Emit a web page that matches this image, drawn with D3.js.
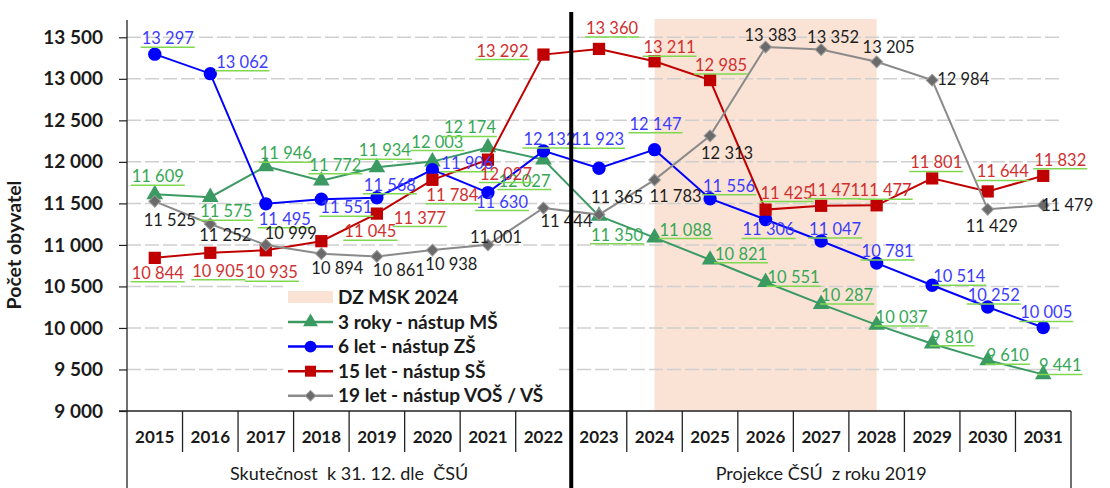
<!DOCTYPE html>
<html>
<head>
<meta charset="utf-8">
<script src="https://cdn.jsdelivr.net/npm/d3@7"></script>
<style>
  body { margin: 0; background: #fff; }
  svg { font-family: Lato, "Open Sans", sans-serif; }
  .lbl { font-size: 16.5px; }
</style>
</head>
<body>
<svg id="chart" width="1110" height="488"></svg>
<script>
// categories and values
var years = ["2015","2016","2017","2018","2019","2020","2021","2022","2023","2024","2025","2026","2027","2028","2029","2030","2031"];
var yTicks = [9000, 9500, 10000, 10500, 11000, 11500, 12000, 12500, 13000, 13500];

var ms3 = [11609, 11575, 11946, 11772, 11934, 12003, 12174, 12027, 11350, 11088, 10821, 10551, 10287, 10037, 9810, 9610, 9441];
var zs6 = [13297, 13062, 11495, 11551, 11568, 11906, 11630, 12132, 11923, 12147, 11556, 11306, 11047, 10781, 10514, 10252, 10005];
var ss15 = [10844, 10905, 10935, 11045, 11377, 11784, 12027, 13292, 13360, 13211, 12985, 11425, 11471, 11477, 11801, 11644, 11832];
var vs19 = [11525, 11252, 10999, 10894, 10861, 10938, 11001, 11444, 11365, 11783, 12313, 13383, 13352, 13205, 12984, 11429, 11479];

var bandYears = ["2024", "2028"];
var groups = [
  { name: "Skutečnost  k 31. 12. dle  ČSÚ", from: "2015", to: "2022" },
  { name: "Projekce ČSÚ  z roku 2019", from: "2023", to: "2031" }
];

// label placement (offset of label centre from its point)
var offMs = [[3,-18],[16,14],[20,-13],[14,-16],[8,-17],[5,-20],[-18,-20],[-19,21],[18,19],[31,-8],[31,-6],[28,-5],[26,-9],[25,-8],[20,-7],[20,-5],[17,-9]];
var offZs = [[13,-16],[32,-12],[19,15],[25,8],[13,-13],[35,-7],[14,9],[6,-12],[-1,-29],[1,-26],[19,-13],[3,10],[14,-12],[11,-12],[27,-9],[6,-12],[3,-15]];
var offSs = [[3,15],[8,18],[6,22],[49,-10],[43,4],[20,15],[18,14],[-41,-4],[13,-21],[15,-14],[11,-15],[21,-17],[13,-16],[9,-15],[4,-16],[15,-20],[17,-16]];
var offVs = [[15,19],[15,11],[25,-12],[16,14],[22,14],[19,14],[8,-8],[23,13],[18,-18],[21,16],[17,17],[5,-12],[12,-13],[12,-15],[31,-1],[4,17],[24,0]];

var series = [
  { name: "3 roky - nástup MŠ", values: ms3, color: "#3a9a62", text: "#35a856", sym: d3.symbolTriangle, size: 120, rot: 0, off: offMs, under: true },
  { name: "6 let - nástup ZŠ", values: zs6, color: "#0000ff", text: "#3c3cff", sym: d3.symbolCircle, size: 140, rot: 0, off: offZs, under: true },
  { name: "15 let - nástup SŠ", values: ss15, color: "#c00000", text: "#d03030", sym: d3.symbolSquare, size: 150, rot: 0, off: offSs, under: true },
  { name: "19 let - nástup VOŠ / VŠ", values: vs19, color: "#8a8a8a", text: "#1e1e1e", sym: d3.symbolSquare, size: 70, rot: 45, off: offVs, under: false, fill: "#6a6a6a" }
];

var m = { left: 127, right: 1071, top: 19, bottom: 411 };
var svg = d3.select("#chart");

var x = d3.scaleBand().domain(years).range([m.left, m.right]);
var y = d3.scaleLinear().domain([9000, 13500]).range([m.bottom, 37.3]);
var cx = function(yr) { return x(yr) + x.bandwidth() / 2; };
var fmt = function(v) { return d3.format(",")(v).replace(/,/g, " "); };

// projection band
svg.append("rect")
  .attr("x", cx(bandYears[0]))
  .attr("y", m.top)
  .attr("width", cx(bandYears[1]) - cx(bandYears[0]))
  .attr("height", m.bottom - m.top)
  .attr("fill", "#fae3d5");

// grid
svg.append("g").selectAll("line")
  .data(yTicks.slice(1))
  .join("line")
  .attr("x1", m.left).attr("x2", 1060)
  .attr("y1", d => y(d)).attr("y2", d => y(d))
  .attr("stroke", "#cfcfcf")
  .attr("stroke-width", 1.5)
  .attr("stroke-dasharray", "14,4");

// y axis
var yAxis = svg.append("g")
  .attr("transform", "translate(" + m.left + ",0)")
  .call(d3.axisLeft(y).tickValues(yTicks).tickSize(8).tickPadding(16).tickFormat(fmt));
yAxis.select(".domain").remove();
yAxis.selectAll(".tick line").attr("stroke", "#222").attr("stroke-width", 1.2);
yAxis.selectAll(".tick text")
  .attr("font-family", "Lato, sans-serif")
  .attr("font-size", 19).attr("font-weight", "bold").attr("fill", "#1a1a1a");

svg.append("line")
  .attr("x1", m.left).attr("x2", m.left)
  .attr("y1", 20).attr("y2", 488)
  .attr("stroke", "#222").attr("stroke-width", 1.3);

svg.append("text")
  .attr("transform", "translate(21," + ((m.top + m.bottom) / 2 + 30) + ") rotate(-90)")
  .attr("text-anchor", "middle")
  .attr("font-size", 19.5).attr("font-weight", "bold").attr("fill", "#1a1a1a")
  .text("Počet obyvatel");

// category table under the plot
svg.append("line")
  .attr("x1", 119).attr("x2", m.right)
  .attr("y1", m.bottom).attr("y2", m.bottom)
  .attr("stroke", "#222").attr("stroke-width", 1.3);

svg.append("g").selectAll("line")
  .data(years.slice(1))
  .join("line")
  .attr("x1", d => x(d)).attr("x2", d => x(d))
  .attr("y1", m.bottom).attr("y2", 452)
  .attr("stroke", "#222").attr("stroke-width", 1.3);

svg.append("line")
  .attr("x1", m.right).attr("x2", m.right)
  .attr("y1", m.bottom).attr("y2", 488)
  .attr("stroke", "#222").attr("stroke-width", 1.3);

svg.append("g").selectAll("text")
  .data(years)
  .join("text")
  .attr("x", d => cx(d))
  .attr("y", 437)
  .attr("dy", "0.35em")
  .attr("text-anchor", "middle")
  .attr("font-size", 17).attr("font-weight", "bold").attr("fill", "#1a1a1a")
  .text(d => d);

svg.append("g").selectAll("text")
  .data(groups)
  .join("text")
  .attr("x", d => (x(d.from) + x(d.to) + x.bandwidth()) / 2)
  .attr("y", 474)
  .attr("dy", "0.35em")
  .attr("text-anchor", "middle")
  .attr("font-size", 18).attr("fill", "#1a1a1a")
  .attr("xml:space", "preserve")
  .style("white-space", "pre")
  .text(d => d.name);

// legend
var lg = svg.append("g").attr("transform", "translate(288,0)");
lg.append("rect").attr("x", -5).attr("y", 284).attr("width", 272).attr("height", 123).attr("fill", "#fff");
lg.append("rect").attr("x", 0).attr("y", 291).attr("width", 45).attr("height", 12).attr("fill", "#fae3d5");
lg.append("text").attr("x", 50).attr("y", 297).attr("dy", "0.35em")
  .attr("font-size", 19).attr("font-weight", "bold").attr("fill", "#1a1a1a").text("DZ MSK 2024");

var li = lg.selectAll(".li").data(series).join("g")
  .attr("class", "li")
  .attr("transform", (d, i) => "translate(0," + (322 + i * 24.6) + ")");
li.append("line").attr("x1", 0).attr("x2", 45)
  .attr("stroke", d => d.color).attr("stroke-width", 2.5);
li.append("path")
  .attr("transform", d => "translate(22.5,0) rotate(" + d.rot + ")")
  .attr("d", d => d3.symbol(d.sym, d.size * 0.8)())
  .attr("fill", d => d.fill || d.color)
  .attr("stroke", d => d.fill ? "#9a9a9a" : "none");
li.append("text").attr("x", 50).attr("dy", "0.35em")
  .attr("font-size", 19).attr("font-weight", "bold").attr("fill", "#1a1a1a")
  .text(d => d.name);

// lines and markers
var line = d3.line().x((d, i) => cx(years[i])).y(d => y(d));

series.forEach(function(s) {
  svg.append("path")
    .datum(s.values)
    .attr("d", line)
    .attr("fill", "none")
    .attr("stroke", s.color)
    .attr("stroke-width", 2);

  svg.append("g").selectAll("path")
    .data(s.values)
    .join("path")
    .attr("transform", (d, i) => "translate(" + cx(years[i]) + "," + y(d) + ") rotate(" + s.rot + ")")
    .attr("d", d3.symbol(s.sym, s.size)())
    .attr("fill", s.fill || s.color)
    .attr("stroke", s.fill ? "#9a9a9a" : "none")
    .attr("stroke-width", 1);
});

// data labels
series.forEach(function(s) {
  var g = svg.append("g");
  s.values.forEach(function(v, i) {
    var px = cx(years[i]) + s.off[i][0];
    var py = y(v) + s.off[i][1];
    var t = g.append("text")
      .attr("class", "lbl")
      .attr("x", px).attr("y", py)
      .attr("dy", "0.36em")
      .attr("text-anchor", "middle")
      .attr("fill", s.text)
      .text(fmt(v));
    if (s.under) {
      var w = t.node().getComputedTextLength();
      g.append("line")
        .attr("x1", px - w / 2 - 1).attr("x2", px + w / 2 + 1)
        .attr("y1", py + 9).attr("y2", py + 9)
        .attr("stroke", "#80d850").attr("stroke-width", 1.5);
    }
  });
});

// divider between actual and projection
svg.append("line")
  .attr("x1", x("2023")).attr("x2", x("2023"))
  .attr("y1", 12).attr("y2", 488)
  .attr("stroke", "#000").attr("stroke-width", 4);
</script>
</body>
</html>
